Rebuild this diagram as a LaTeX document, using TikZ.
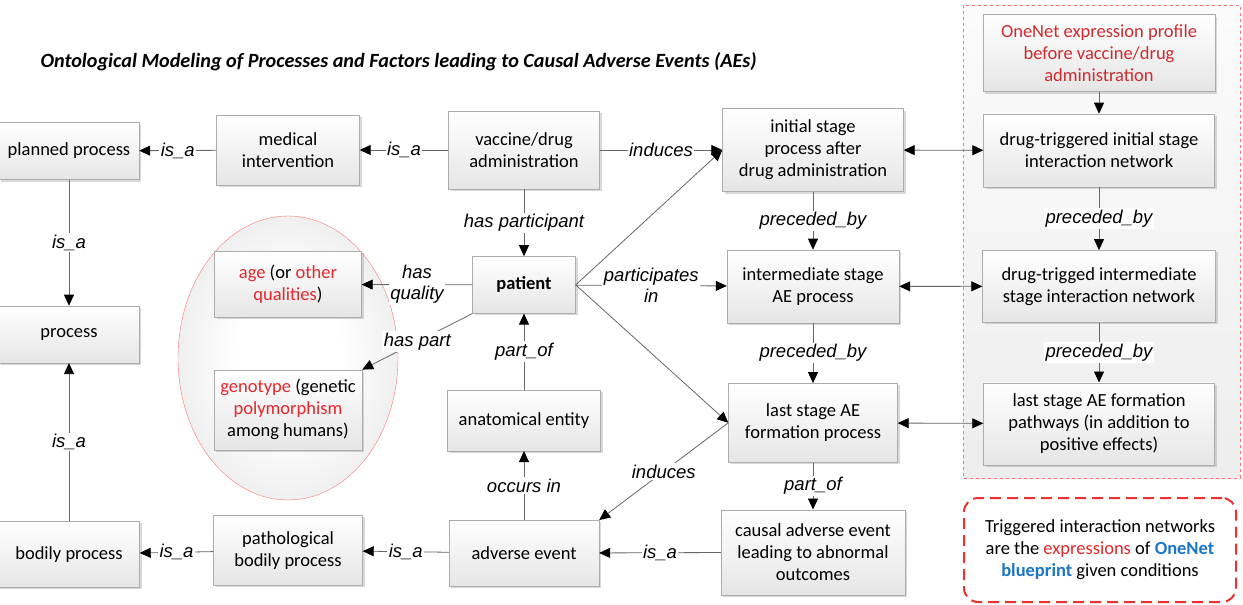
\documentclass[tikz,border=0pt]{standalone}
\usepackage{fontspec}
\setmainfont{Carlito}
\newfontfamily\arialfont{Liberation Sans}
\usetikzlibrary{positioning,arrows.meta,shadows}
\tikzset{>={Triangle[width=10pt,length=11pt,color=black]}}
\definecolor{aered}{HTML}{E8262B}
\definecolor{onered}{HTML}{D02A2E}
\definecolor{notered}{HTML}{F03030}
\definecolor{netblue}{HTML}{1B75C9}
\pgfdeclareradialshading{ellshade}{\pgfpoint{0bp}{0bp}}{color(0bp)=(white); color(12bp)=(white); color(50bp)=(gray!36); color(100bp)=(gray!36)}
\tikzset{
	box/.style={draw=gray!65, top color=white, bottom color=gray!20, align=center, inner sep=2pt,
		font=\fontsize{18.5}{22}\selectfont,
		drop shadow={shadow xshift=2pt, shadow yshift=-2pt, opacity=0.3}},
	link/.style={draw=gray!80!black, line width=0.8pt},
	rel/.style={fill=white, inner sep=1.5pt, align=center,
		font=\arialfont\itshape\fontsize{18.5}{21}\selectfont},
}

\begin{document}
\begin{tikzpicture}[x=1pt,y=-1pt]
		\useasboundingbox (0,0) rectangle (1243,605);
		
		\draw[red!55, dashed, top color=gray!3, bottom color=gray!14] (963,5) rectangle (1240,478);
		\draw[red!55, shading=ellshade] (288,358) ellipse [x radius=110, y radius=142];
		
		\node(title) [anchor=west, font=\bfseries\itshape\fontsize{20.2}{24}\selectfont] at (37,62)
			{Ontological Modeling of Processes and Factors leading to Causal Adverse Events (AEs)};
		
		\node(plan) [box, minimum width=140pt, minimum height=57pt] at (69,151)  	{planned process};
		\node(proc) [box, minimum width=140pt, minimum height=57pt, below=126pt of plan] 	{process};
		\node(body) [box, minimum width=141pt, minimum height=66pt, below=158pt of proc] 	{bodily process};
		
		\node(medint) [box, minimum width=143pt, minimum height=70pt] at (288,150) 	{medical\\intervention};
		\node(age) [box, minimum width=147pt, minimum height=66pt, below=66pt of medint]
			{\textcolor{aered}{age} (or \textcolor{aered}{other}\\\textcolor{aered}{qualities})};
		\node(geno) [box, minimum width=148pt, minimum height=80pt, below=52pt of age]
			{\textcolor{aered}{genotype} (genetic\\\textcolor{aered}{polymorphism}\\among humans)};
		\node(patho) [box, minimum width=149pt, minimum height=70pt, below=65pt of geno] 	{pathological\\bodily process};
		
		\node(vacc) [box, minimum width=151pt, minimum height=78pt] at (524,150) 	{vaccine/drug\\administration};
		\node(pat) [box, minimum width=103pt, minimum height=57pt, below=67pt of vacc] 	{\bfseries patient};
		\node(anat) [box, minimum width=153pt, minimum height=61pt, below=76pt of pat] 	{anatomical entity};
		\node(ae) [box, minimum width=150pt, minimum height=66pt, below=69pt of anat] 	{adverse event};
		
		\node(init) [box, minimum width=181pt, minimum height=83pt] at (813,150) 	{initial stage\\process after\\drug administration};
		\node(inter) [box, minimum width=172pt, minimum height=73pt, below=58pt of init] 	{intermediate stage\\AE process};
		\node(last) [box, minimum width=169pt, minimum height=79pt, below=60pt of inter] 	{last stage AE\\formation process};
		\node(causal) [box, minimum width=184pt, minimum height=85pt, below=47pt of last] 	{causal adverse event\\leading to abnormal\\outcomes};
		
		\node(prof) [box, text=onered, minimum width=232pt, minimum height=77pt] at (1099,53) 	{OneNet expression profile\\before vaccine/drug\\administration};
		\node(net1) [box, minimum width=231pt, minimum height=73pt, below=22pt of prof] 	{drug-triggered initial stage\\interaction network};
		\node(net2) [box, minimum width=233pt, minimum height=72pt, below=63pt of net1] 	{drug-trigged intermediate\\stage interaction network};
		\node(net3) [box, minimum width=231pt, minimum height=82pt, below=60pt of net2] 	{last stage AE formation\\pathways (in addition to\\positive effects)};
		
		\node(note) [draw=notered, line width=2pt, dash pattern=on 11pt off 6pt, rounded corners=14pt,
			minimum width=272pt, minimum height=104pt, align=center, font=\fontsize{18.5}{22}\selectfont] at (1100,550)
			{Triggered interaction networks\\are the \textcolor{aered}{expressions} of \textcolor{netblue}{\bfseries OneNet}\\\textcolor{netblue}{\bfseries blueprint} given conditions};
		
		\draw[link,->] (medint) -- node[rel]{is\_a} (plan);
		\draw[link,->] (vacc) -- node[rel]{is\_a} (medint);
		\draw[link,->] (vacc) -- node[rel]{induces} (init);
		\draw[link,->] (vacc) -- node[rel]{has participant} (pat);
		\draw[link,->] (pat.east) -- (init.west);
		\draw[link,->] (pat) -- node[rel]{participates\\in} (inter);
		\draw[link,->] (pat.east) -- (last.west);
		\draw[link,->] (pat) -- node[rel]{has\\quality} (age);
		\draw[link,->] (pat.south west) -- node[rel]{has part} (geno.north east);
		\draw[link,->] (anat) -- node[rel]{part\_of} (pat);
		\draw[link,->] (ae) -- node[rel]{occurs in} (anat);
		\draw[link,->] (last.west) -- node[rel]{induces} (ae.north east);
		\draw[link,->] (causal) -- node[rel]{is\_a} (ae);
		\draw[link,->] (ae) -- node[rel]{is\_a} (patho);
		\draw[link,->] (patho) -- node[rel]{is\_a} (body);
		\draw[link,->] (body) -- node[rel]{is\_a} (proc);
		\draw[link,->] (plan) -- node[rel]{is\_a} (proc);
		
		\draw[link,->] (init) -- node[rel]{preceded\_by} (inter);
		\draw[link,->] (inter) -- node[rel]{preceded\_by} (last);
		\draw[link,->] (last) -- node[rel]{part\_of} (causal);
		
		\draw[link,<->] (init) -- (net1);
		\draw[link,<->] (inter) -- (net2);
		\draw[link,<->] (last) -- (net3);
		\draw[link,->] (prof) -- (net1);
		\draw[link,->] (net1) -- node[rel]{preceded\_by} (net2);
		\draw[link,->] (net2) -- node[rel]{preceded\_by} (net3);
		
	\end{tikzpicture}
\end{document}
